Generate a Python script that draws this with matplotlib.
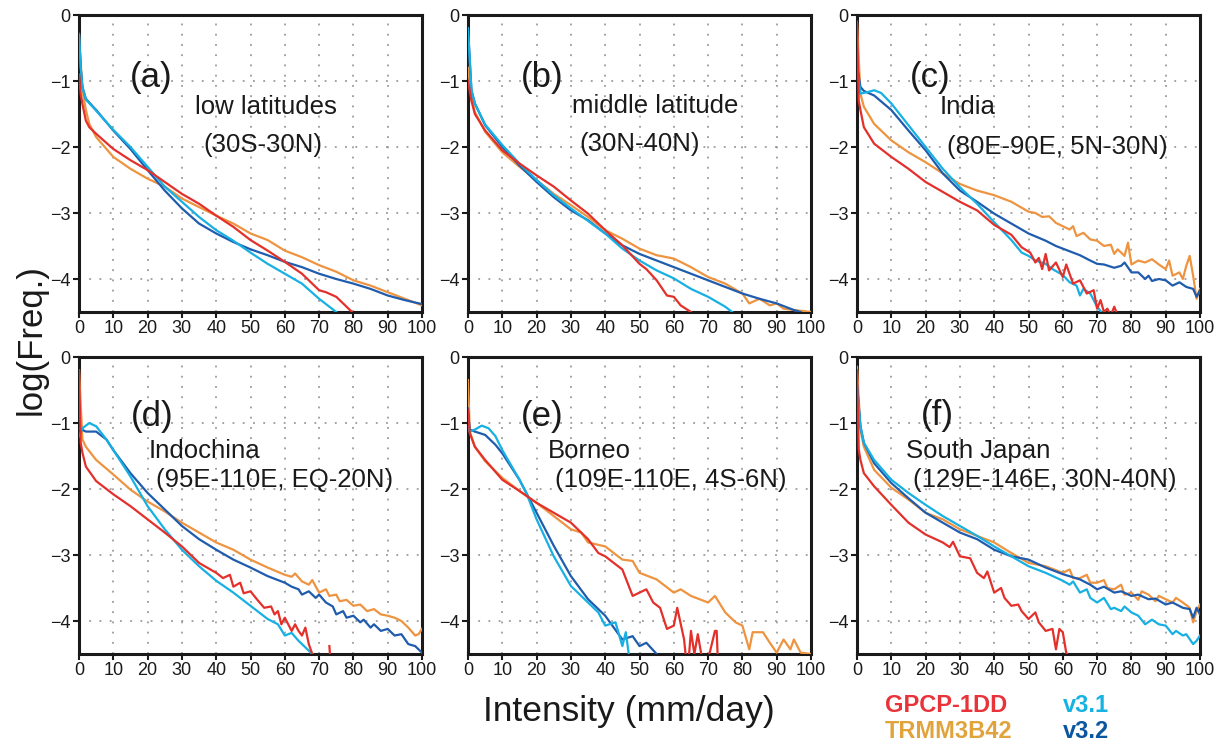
import matplotlib
matplotlib.use("Agg")
import matplotlib.pyplot as plt
import numpy as np

plt.rcParams['font.family'] = ['Liberation Sans', 'DejaVu Sans']
nan = float('nan')

# ---------------- data (log10 frequency vs intensity, mm/day) ----------------
# (a) low latitudes
a_gpcp_x = [0, 0.5, 1, 2, 3, 5, 10, 15, 20, 25, 30, 35, 40, 45, 50, 55, 60, 65, 70, 72, 75, 78, 80]
a_gpcp_y = [-0.9, -1.2, -1.35, -1.6, -1.7, -1.8, -2.03, -2.2, -2.35, -2.53, -2.71, -2.86, -3.04, -3.21, -3.41, -3.57, -3.74, -3.92, -4.17, -4.2, -4.27, -4.42, -4.52]
a_trmm_x = [0, 1, 2, 3, 5, 10, 15, 20, 25, 30, 35, 40, 45, 50, 55, 60, 65, 70, 75, 80, 85, 90, 95, 100]
a_trmm_y = [-0.3, -1.14, -1.44, -1.65, -1.85, -2.15, -2.33, -2.48, -2.6, -2.78, -2.91, -3.04, -3.16, -3.31, -3.41, -3.57, -3.67, -3.79, -3.89, -4.02, -4.1, -4.2, -4.3, -4.4]
a_v31_x = [0, 0.5, 1, 2, 5, 10, 15, 20, 25, 30, 35, 40, 45, 50, 55, 60, 65, 70, 75]
a_v31_y = [-0.3, -0.8, -1.1, -1.28, -1.45, -1.74, -2.0, -2.3, -2.6, -2.83, -3.06, -3.26, -3.42, -3.6, -3.77, -3.92, -4.07, -4.3, -4.5]
a_v32_x = [0, 0.5, 1, 2, 5, 10, 15, 20, 25, 30, 35, 40, 45, 50, 55, 60, 65, 70, 75, 80, 85, 90, 95, 100]
a_v32_y = [-0.28, -0.8, -1.09, -1.27, -1.44, -1.75, -2.03, -2.35, -2.66, -2.93, -3.16, -3.31, -3.44, -3.55, -3.64, -3.74, -3.82, -3.92, -4.0, -4.07, -4.15, -4.25, -4.32, -4.38]

# (b) middle latitude
b_gpcp_x = [0, 1, 2, 5, 10, 15, 20, 25, 30, 35, 40, 45, 50, 52, 55, 58, 60, 62, 65]
b_gpcp_y = [-1.0, -1.3, -1.5, -1.75, -2.05, -2.25, -2.43, -2.6, -2.81, -3.01, -3.26, -3.49, -3.77, -3.85, -4.02, -4.25, -4.27, -4.4, -4.5]
b_trmm_x = [0, 1, 2, 5, 10, 15, 20, 25, 30, 35, 40, 45, 50, 55, 60, 65, 70, 75, 80, 82, 85, 88, 90, 92, 95, 100]
b_trmm_y = [-0.8, -1.24, -1.47, -1.77, -2.08, -2.3, -2.5, -2.71, -2.88, -3.06, -3.26, -3.39, -3.54, -3.64, -3.69, -3.82, -3.97, -4.07, -4.22, -4.37, -4.3, -4.4, -4.37, -4.45, -4.47, -4.5]
b_v31_x = [0, 1, 2, 5, 10, 15, 20, 25, 30, 35, 40, 45, 50, 55, 60, 65, 70, 75, 77]
b_v31_y = [-0.2, -1.14, -1.34, -1.66, -1.97, -2.25, -2.5, -2.73, -2.93, -3.12, -3.31, -3.54, -3.72, -3.87, -3.99, -4.15, -4.27, -4.42, -4.5]
b_v32_x = [0, 1, 2, 5, 10, 15, 20, 25, 30, 35, 40, 45, 50, 55, 60, 65, 70, 75, 80, 85, 90, 95, 97]
b_v32_y = [-0.2, -1.14, -1.34, -1.67, -2.0, -2.28, -2.53, -2.76, -2.96, -3.11, -3.31, -3.49, -3.62, -3.72, -3.82, -3.92, -4.02, -4.12, -4.22, -4.3, -4.37, -4.47, -4.5]

# (c) India
c_gpcp_x = [0, 0.5, 1, 2, 5, 10, 15, 20, 25, 30, 35, 40, 45, 48, 50.5, 52, 53, 54, 55, 56, 58, 60, 61, 63, 65, 67, 69, 70, 71, 72, 73, 74, 75, 76]
c_gpcp_y = [-0.1, -1.3, -1.44, -1.7, -1.95, -2.15, -2.33, -2.53, -2.68, -2.83, -2.96, -3.18, -3.33, -3.52, -3.6, -3.75, -3.68, -3.85, -3.62, -3.87, -3.75, -3.97, -3.78, -4.07, -4.02, -4.22, -4.17, -4.45, -4.32, -4.5, -4.45, -4.55, -4.42, -4.55]
c_trmm_x = [0, 1, 2, 5, 10, 15, 20, 25, 30, 35, 40, 45, 50, 52, 54, 56, 58, 60, 62, 63, 64, 66, 68, 70, 72, 74, 75, 76, 78, 79, 80, 82, 84, 86, 88, 90, 91, 92, 94, 95, 96, 97, 98, 99, 100]
c_trmm_y = [-0.13, -1.19, -1.39, -1.65, -1.9, -2.08, -2.23, -2.4, -2.56, -2.66, -2.73, -2.83, -2.98, -3.0, -3.06, -3.05, -3.15, -3.2, -3.25, -3.2, -3.35, -3.3, -3.4, -3.42, -3.5, -3.48, -3.62, -3.55, -3.65, -3.45, -3.78, -3.72, -3.75, -3.7, -3.78, -3.85, -3.72, -3.95, -3.9, -4.0, -3.8, -3.65, -3.95, -4.3, -4.15]
c_v31_x = [0, 1, 3, 5, 7, 10, 15, 20, 25, 30, 35, 40, 45, 48, 50, 52, 55, 57, 60, 62, 64, 65, 66, 68, 70, 72]
c_v31_y = [-0.8, -1.19, -1.17, -1.14, -1.18, -1.34, -1.67, -2.0, -2.33, -2.61, -2.86, -3.14, -3.41, -3.6, -3.65, -3.72, -3.77, -3.85, -3.94, -4.05, -4.1, -4.25, -4.15, -4.22, -4.42, -4.55]
c_v32_x = [0, 1, 2, 5, 10, 15, 20, 25, 30, 35, 40, 45, 50, 55, 58, 60, 62, 65, 68, 70, 72, 75, 77, 78, 80, 82, 84, 85, 86, 88, 90, 92, 94, 96, 98, 99, 100]
c_v32_y = [-0.76, -1.09, -1.15, -1.22, -1.44, -1.75, -2.05, -2.4, -2.66, -2.83, -3.01, -3.16, -3.31, -3.42, -3.5, -3.54, -3.58, -3.64, -3.72, -3.77, -3.78, -3.83, -3.8, -3.75, -3.9, -3.9, -4.0, -3.95, -4.03, -4.0, -4.02, -4.1, -4.05, -4.12, -4.15, -4.27, -4.17]

# (d) Indochina
d_gpcp_x = [0, 0.5, 1, 2, 5, 10, 15, 20, 25, 30, 35, 40, 42, 44, 45, 47, 48, 50, 52, 54, 56, 57, 58, 59, 60, 62, 63, 64, 65, 66, 67, 68, 69, 70, 73, 73.3]
d_gpcp_y = [-0.2, -1.3, -1.45, -1.66, -1.88, -2.08, -2.26, -2.46, -2.66, -2.87, -3.12, -3.27, -3.35, -3.3, -3.48, -3.42, -3.58, -3.55, -3.68, -3.8, -3.78, -3.9, -3.85, -4.05, -3.95, -4.15, -4.05, -4.15, -4.22, -4.1, -4.35, -4.5, -4.6, nan, -4.38, -4.6]
d_trmm_x = [0, 1, 2, 5, 10, 15, 20, 25, 30, 35, 40, 45, 50, 55, 60, 62, 63, 65, 67, 68, 70, 72, 73, 75, 76, 78, 80, 82, 84, 86, 88, 90, 92, 94, 96, 98, 99, 100]
d_trmm_y = [-0.2, -1.25, -1.36, -1.56, -1.78, -2.01, -2.19, -2.34, -2.51, -2.66, -2.81, -2.92, -3.07, -3.19, -3.3, -3.33, -3.28, -3.4, -3.45, -3.38, -3.57, -3.52, -3.62, -3.6, -3.7, -3.68, -3.77, -3.75, -3.85, -3.82, -3.9, -3.92, -3.95, -4.0, -4.1, -4.22, -4.2, -4.12]
d_v31_x = [0, 1, 3, 5, 8, 10, 15, 20, 25, 30, 35, 40, 45, 50, 55, 58, 60, 62, 64, 65, 68]
d_v31_y = [-1.2, -1.08, -1.0, -1.05, -1.25, -1.41, -1.81, -2.26, -2.61, -2.92, -3.17, -3.39, -3.57, -3.77, -3.97, -4.05, -4.22, -4.18, -4.3, -4.35, -4.5]
d_v32_x = [0, 2, 5, 8, 10, 15, 20, 25, 30, 35, 40, 45, 50, 55, 60, 62, 64, 65, 67, 69, 70, 72, 74, 75, 77, 78, 80, 82, 83, 85, 86, 88, 90, 92, 94, 96, 98, 100]
d_v32_y = [-1.08, -1.13, -1.13, -1.25, -1.41, -1.76, -2.06, -2.31, -2.56, -2.76, -2.92, -3.07, -3.19, -3.32, -3.42, -3.48, -3.52, -3.6, -3.55, -3.65, -3.6, -3.72, -3.78, -3.9, -3.85, -3.95, -3.92, -4.02, -3.98, -4.1, -4.05, -4.15, -4.12, -4.22, -4.2, -4.35, -4.38, -4.48]

# (e) Borneo
e_gpcp_x = [0, 0.5, 2, 5, 10, 15, 20, 25, 30, 35, 38, 40, 45, 48, 50, 52, 54, 56, 58, 60, 61, 63, 64, 65, 66, 67, 68, 69, 72, 72.5, 73]
e_gpcp_y = [-0.8, -1.15, -1.36, -1.56, -1.86, -2.03, -2.21, -2.36, -2.51, -2.76, -2.97, -3.02, -3.22, -3.62, -3.57, -3.52, -3.72, -3.8, -4.12, -4.07, -3.8, -4.28, -4.8, -4.15, -4.5, -4.2, -4.5, -4.8, -4.15, -4.15, -4.8]
e_trmm_x = [0, 0.5, 2, 5, 10, 15, 20, 25, 30, 33, 35, 40, 45, 48, 50, 55, 60, 62, 65, 70, 72, 75, 78, 80, 82, 83, 86, 88, 90, 92, 94, 95, 97, 100]
e_trmm_y = [-0.35, -1.13, -1.36, -1.58, -1.83, -2.03, -2.21, -2.41, -2.61, -2.66, -2.81, -2.87, -3.07, -3.09, -3.27, -3.37, -3.57, -3.52, -3.62, -3.72, -3.62, -3.87, -4.02, -4.07, -4.43, -4.17, -4.17, -4.33, -4.48, -4.28, -4.43, -4.28, -4.48, -4.5]
e_v31_x = [0, 0.5, 2, 4, 6, 8, 10, 15, 17, 20, 25, 30, 35, 38, 40, 43, 45, 46, 47]
e_v31_y = [-1.0, -1.13, -1.1, -1.04, -1.08, -1.2, -1.41, -1.86, -2.06, -2.46, -3.02, -3.47, -3.72, -3.87, -4.07, -4.02, -4.38, -4.17, -4.55]
e_v32_x = [0, 0.5, 2, 5, 8, 10, 15, 17, 20, 25, 30, 35, 40, 45, 48, 50, 52, 55]
e_v32_y = [-0.78, -1.1, -1.13, -1.18, -1.33, -1.46, -1.86, -2.06, -2.36, -2.86, -3.32, -3.67, -3.92, -4.28, -4.23, -4.38, -4.33, -4.5]

# (f) South Japan
f_gpcp_x = [0, 0.5, 1, 2, 5, 10, 15, 20, 25, 27, 28, 30, 33, 35, 37, 38, 40, 42, 43, 45, 47, 48, 50, 52, 53, 55, 57, 58, 59, 60, 61, 62]
f_gpcp_y = [-0.2, -1.4, -1.56, -1.76, -1.96, -2.24, -2.51, -2.69, -2.81, -2.88, -2.8, -3.02, -3.05, -3.27, -3.35, -3.25, -3.57, -3.5, -3.65, -3.77, -3.75, -3.85, -3.97, -3.87, -4.02, -4.15, -4.12, -4.43, -4.12, -4.17, -4.48, -4.55]
f_trmm_x = [0, 1, 2, 5, 10, 15, 20, 25, 30, 35, 40, 45, 50, 55, 60, 62, 63, 65, 67, 68, 70, 72, 73, 75, 77, 78, 80, 82, 83, 85, 87, 88, 90, 92, 93, 95, 97, 98, 99, 100]
f_trmm_y = [-0.15, -1.1, -1.36, -1.71, -1.98, -2.16, -2.36, -2.46, -2.61, -2.71, -2.81, -2.97, -3.12, -3.17, -3.27, -3.22, -3.35, -3.35, -3.3, -3.42, -3.42, -3.38, -3.5, -3.52, -3.45, -3.6, -3.57, -3.68, -3.55, -3.6, -3.7, -3.62, -3.67, -3.72, -3.65, -3.72, -3.8, -4.02, -3.85, -3.75]
f_v31_x = [0, 1, 2, 5, 10, 15, 20, 25, 30, 35, 40, 45, 50, 55, 60, 62, 63, 65, 67, 68, 70, 72, 74, 75, 77, 78, 80, 82, 84, 86, 88, 90, 92, 93, 95, 96, 98, 99, 100]
f_v31_y = [-0.42, -1.05, -1.3, -1.56, -1.86, -2.06, -2.24, -2.41, -2.56, -2.71, -2.87, -3.02, -3.17, -3.27, -3.39, -3.45, -3.4, -3.57, -3.52, -3.65, -3.72, -3.65, -3.82, -3.8, -3.85, -3.78, -3.87, -3.92, -4.05, -3.98, -4.05, -4.07, -4.2, -4.15, -4.22, -4.2, -4.35, -4.3, -4.22]
f_v32_x = [0, 1, 2, 5, 10, 15, 20, 25, 30, 35, 40, 45, 50, 55, 60, 65, 68, 70, 72, 75, 77, 80, 82, 85, 87, 90, 92, 95, 97, 98, 99, 100]
f_v32_y = [-0.42, -1.05, -1.3, -1.61, -1.91, -2.14, -2.36, -2.51, -2.66, -2.76, -2.92, -3.02, -3.07, -3.19, -3.29, -3.37, -3.45, -3.52, -3.48, -3.57, -3.55, -3.62, -3.6, -3.67, -3.66, -3.75, -3.72, -3.8, -3.82, -3.95, -3.8, -3.9]

panel_labels = ['(a)', '(b)', '(c)', '(d)', '(e)', '(f)']
region_names = ['low latitudes', 'middle latitude', 'India', 'Indochina', 'Borneo', 'South Japan']
region_boxes = ['(30S-30N)', '(30N-40N)', '(80E-90E, 5N-30N)', '(95E-110E, EQ-20N)',
                '(109E-110E, 4S-6N)', '(129E-146E, 30N-40N)']
series_names = ['GPCP-1DD', 'TRMM3B42', 'v3.1', 'v3.2']
x_ticks = [0, 10, 20, 30, 40, 50, 60, 70, 80, 90, 100]
y_ticks = [0, -1, -2, -3, -4]

panels = [
    [(a_gpcp_x, a_gpcp_y), (a_trmm_x, a_trmm_y), (a_v31_x, a_v31_y), (a_v32_x, a_v32_y)],
    [(b_gpcp_x, b_gpcp_y), (b_trmm_x, b_trmm_y), (b_v31_x, b_v31_y), (b_v32_x, b_v32_y)],
    [(c_gpcp_x, c_gpcp_y), (c_trmm_x, c_trmm_y), (c_v31_x, c_v31_y), (c_v32_x, c_v32_y)],
    [(d_gpcp_x, d_gpcp_y), (d_trmm_x, d_trmm_y), (d_v31_x, d_v31_y), (d_v32_x, d_v32_y)],
    [(e_gpcp_x, e_gpcp_y), (e_trmm_x, e_trmm_y), (e_v31_x, e_v31_y), (e_v32_x, e_v32_y)],
    [(f_gpcp_x, f_gpcp_y), (f_trmm_x, f_trmm_y), (f_v31_x, f_v31_y), (f_v32_x, f_v32_y)],
]

# ---------------- styling ----------------
line_colors = ['#e3302a', '#ee9441', '#17b0e2', '#1f5cad']
legend_colors = ['#e8333a', '#e1a33c', '#18b2e2', '#0a569f']

# text positions (data coords)
lab_pos = [(21, -0.95), (21.6, -0.95), (21.2, -0.95), (21.3, -0.9), (21.6, -0.9), (23.3, -0.88)]
name_pos = [(33.8, -1.39), (30.3, -1.38), (24.1, -1.4), (20.2, -1.42), (23.3, -1.42), (14.2, -1.42)]
box_pos = [(36.4, -1.97), (32.6, -1.96), (26.2, -2.0), (22.4, -1.86), (25.4, -1.86), (16.3, -1.86)]

W, H = 1221, 746
fig = plt.figure(figsize=(W / 100, H / 100), dpi=100)

lefts = [79, 468, 857]
tops = [15, 357]
pw, ph = 343, 297

for i in range(6):
    r, c = divmod(i, 3)
    l = lefts[c]
    t = tops[r]
    ax = fig.add_axes([l / W, 1 - (t + ph) / H, pw / W, ph / H])
    ax.set_xlim(0, 100)
    ax.set_ylim(-4.5, 0)
    ax.set_xticks(x_ticks)
    ax.set_yticks(y_ticks)
    ax.set_xticklabels([str(v) for v in x_ticks])
    ax.set_yticklabels(['0', '\u22121', '\u22122', '\u22123', '\u22124'])
    ax.grid(True, color='#8a8a8a', linestyle=(0, (1.2, 5.5)), linewidth=1.1)
    for sp in ax.spines.values():
        sp.set_linewidth(2.2)
        sp.set_color('#1a1a1a')
    ax.tick_params(direction='out', length=4, width=1.5, labelsize=13, pad=2,
                   colors='#1a1a1a')
    for k in [0, 1, 3, 2]:
        xs, ys = panels[i][k]
        ax.plot(xs, ys, color=line_colors[k], lw=1.6, zorder=3 + (k == 0) * 0.5)
    ax.text(*lab_pos[i], panel_labels[i], fontsize=25, ha='center', va='center',
            color='#1a1a1a', zorder=5)
    ax.text(*name_pos[i], region_names[i], fontsize=18.5, ha='left', va='center',
            color='#1a1a1a', zorder=5)
    ax.text(*box_pos[i], region_boxes[i], fontsize=18.5, ha='left', va='center',
            color='#1a1a1a', zorder=5)

fig.text(629 / W, 1 - 712 / H, 'Intensity (mm/day)', fontsize=25.5, ha='center', va='center',
         color='#1a1a1a')
fig.text(31 / W, 1 - 340 / H, 'log(Freq.)', fontsize=25, ha='center', va='center',
         rotation=90, color='#1a1a1a')

leg_pos = [(885, 705), (885, 731), (1063, 705), (1063, 731)]
for k in range(4):
    fig.text(leg_pos[k][0] / W, 1 - leg_pos[k][1] / H, series_names[k], fontsize=17,
             fontweight='bold', ha='left', va='center', color=legend_colors[k])

fig.savefig('out.png', dpi=100)
